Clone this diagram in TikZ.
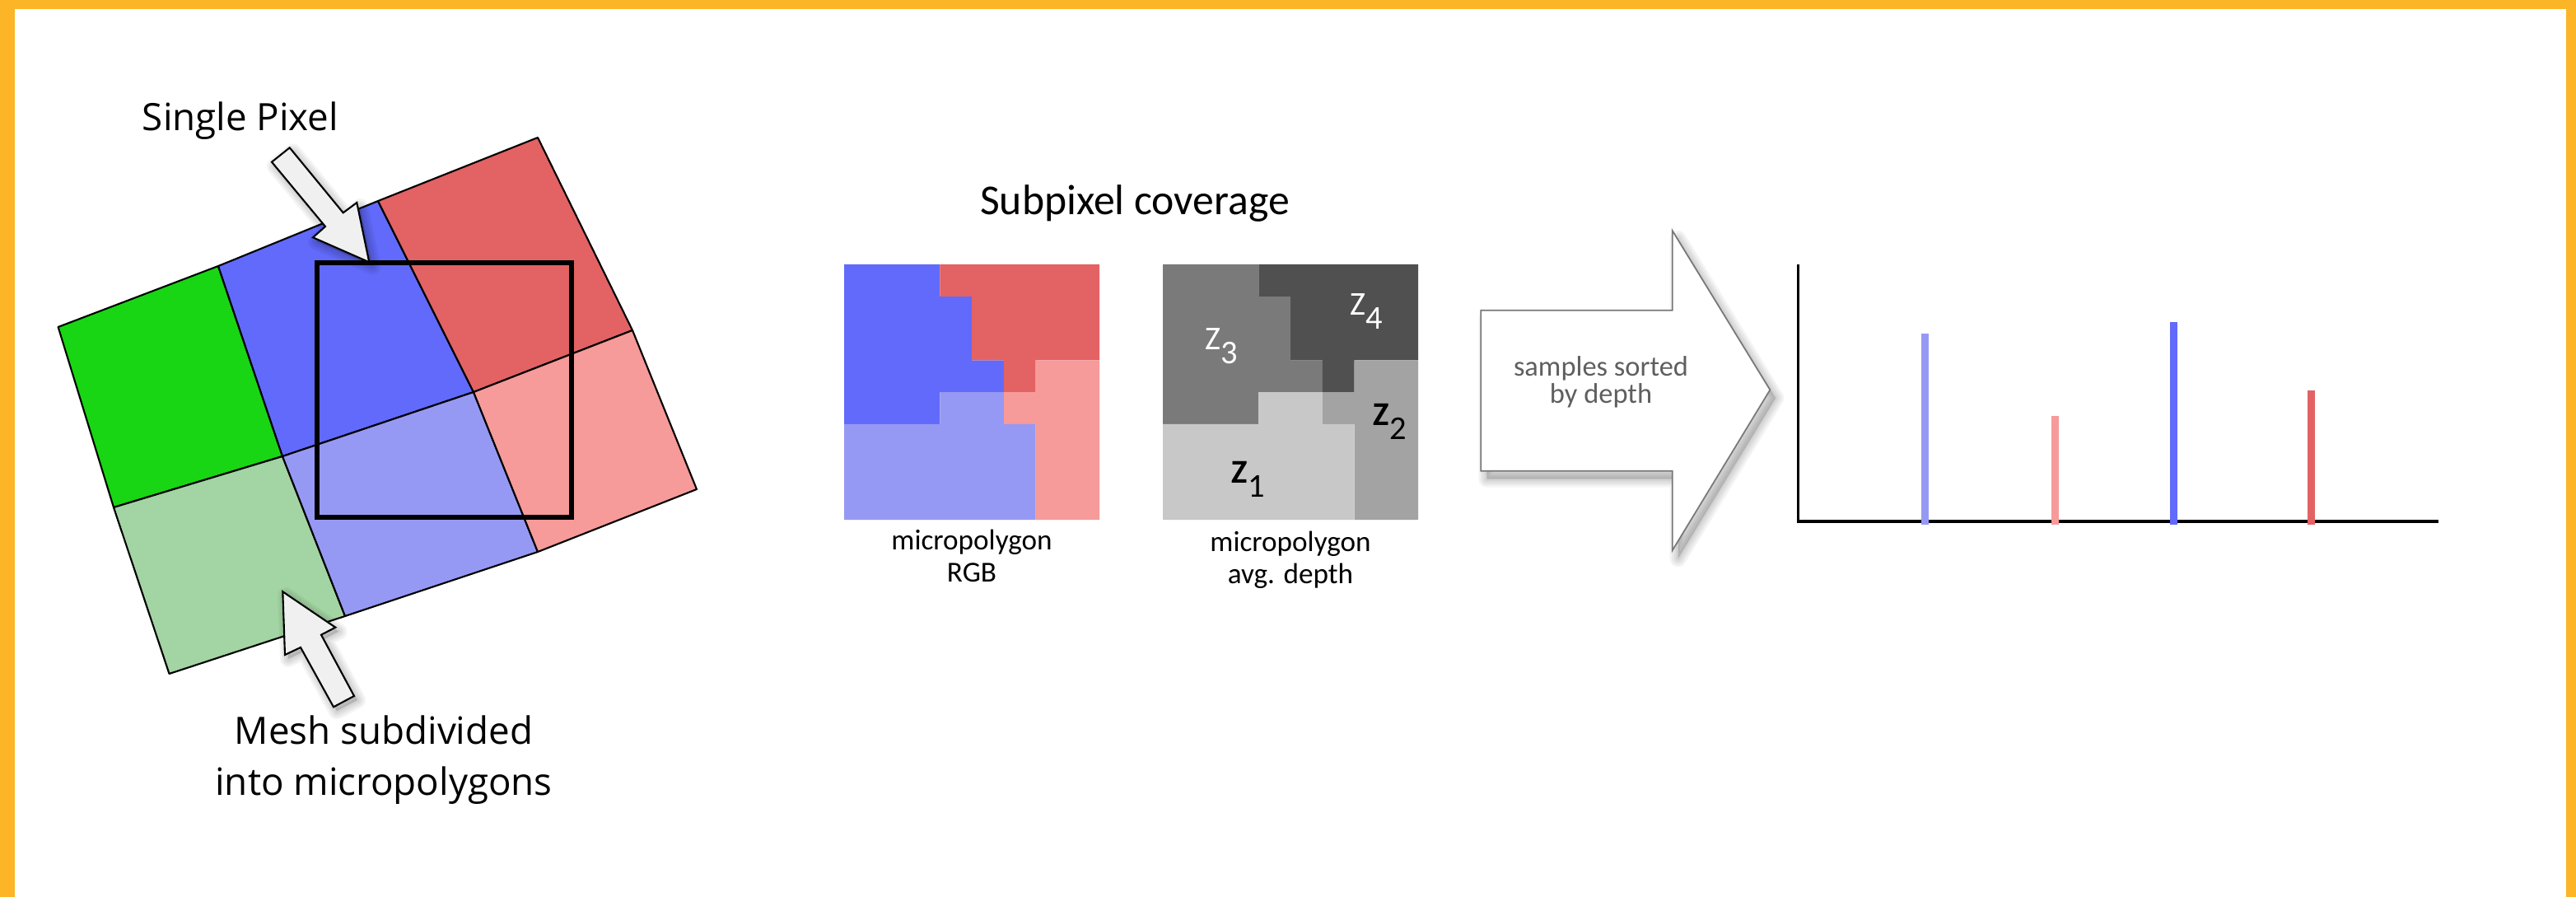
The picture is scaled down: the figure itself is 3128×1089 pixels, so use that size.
\documentclass[tikz,border=0pt]{standalone}
\usepackage{fontspec}
\setmainfont{Carlito}
\newfontfamily\osans{Open Sans}
\definecolor{ygold}{RGB}{251,181,38}
\definecolor{cgreen}{RGB}{24,214,20}
\definecolor{cblue}{RGB}{97,106,250}
\definecolor{cred}{RGB}{227,98,99}
\definecolor{clgreen}{RGB}{163,212,163}
\definecolor{clblue}{RGB}{150,153,244}
\definecolor{cpink}{RGB}{247,154,154}
\definecolor{gzthree}{RGB}{122,122,122}
\definecolor{gzfour}{RGB}{80,80,80}
\definecolor{gztwo}{RGB}{163,163,163}
\definecolor{gzone}{RGB}{200,200,201}
\definecolor{arrowfill}{RGB}{240,240,240}
\definecolor{arrowline}{RGB}{120,120,120}
\definecolor{labgray}{RGB}{95,95,95}
\newcommand\blurshadow[3]{%
  \begin{scope}[shift={(#2,#3)}]
    \foreach \lw in {20,15,10,5}{\draw[black, draw opacity=0.045, line width=\lw*0.2845pt, line join=round] #1;}
    \fill[black, opacity=0.15] #1;
  \end{scope}}
\newcommand\subpixgrid[6]{%
  \begin{scope}[shift={(#1,#2)}, x=0.3875cm, y=-0.3875cm]
    \fill[#3] (0,0) -- (3,0) -- (3,1) -- (4,1) -- (4,3) -- (5,3) -- (5,4) -- (3,4) -- (3,5) -- (0,5) -- cycle;
    \fill[#4] (3,0) -- (8,0) -- (8,3) -- (6,3) -- (6,4) -- (5,4) -- (5,3) -- (4,3) -- (4,1) -- (3,1) -- cycle;
    \fill[#5] (6,3) -- (8,3) -- (8,8) -- (6,8) -- (6,5) -- (5,5) -- (5,4) -- (6,4) -- cycle;
    \fill[#6] (0,5) -- (3,5) -- (3,4) -- (5,4) -- (5,5) -- (6,5) -- (6,8) -- (0,8) -- cycle;
  \end{scope}}
\begin{document}
\begin{tikzpicture}[x=0.01cm, y=-0.01cm,
  meshedge/.style={draw=black, line width=0.6pt, line join=round},
  pixbox/.style={draw=black, line width=1.6pt},
  smallarrow/.style={fill=arrowfill, draw=black, line width=0.6pt, line join=miter},
  bigarrow/.style={fill=white, draw=arrowline, line width=0.5pt, line join=miter},
  samplebar/.style={line width=2.56pt},
  biglabel/.style={font=\osans\fontsize{13}{17.6}\selectfont, inner sep=0pt, align=center},
  smalllabel/.style={font=\fontsize{10}{11.1}\selectfont, inner sep=0pt, align=center},
  zlab/.style={font=\fontsize{11.5}{13}\selectfont, inner sep=0pt, anchor=base west}]
\useasboundingbox (0,0) rectangle (3128,1089);
% frame
\fill[ygold] (0,0) rectangle (3128,1089);
\fill[white] (17.7,10.7) rectangle (3116,1089);

% mesh vertices
\coordinate (A0) at (70.6,397);
\coordinate (A1) at (265,323);
\coordinate (A2) at (459,244);
\coordinate (A3) at (653,167);
\coordinate (B0) at (138,616);
\coordinate (B1) at (343,554);
\coordinate (B2) at (575,476);
\coordinate (B3) at (768,401);
\coordinate (C0) at (205.5,818);
\coordinate (C1) at (419,748);
\coordinate (C2) at (653,670);
\coordinate (C3) at (846,594);

\filldraw[meshedge, fill=cgreen] (A0) -- (A1) -- (B1) -- (B0) -- cycle;
\filldraw[meshedge, fill=cblue] (A1) -- (A2) -- (B2) -- (B1) -- cycle;
\filldraw[meshedge, fill=cred] (A2) -- (A3) -- (B3) -- (B2) -- cycle;
\filldraw[meshedge, fill=clgreen] (B0) -- (B1) -- (C1) -- (C0) -- cycle;
\filldraw[meshedge, fill=clblue] (B1) -- (B2) -- (C2) -- (C1) -- cycle;
\filldraw[meshedge, fill=cpink] (B2) -- (B3) -- (C3) -- (C2) -- cycle;

% single pixel square
\draw[pixbox] (385,319) rectangle (694,628);

% block arrows
\def\pathSP{(351.7,179.3) -- (416.7,258.3) -- (433.3,246) -- (448.3,318.3) -- (380,288.3) -- (395,275) -- (330,196.7) -- cycle}
\def\pathMS{(343.3,718.3) -- (407.3,761.7) -- (390,770.7) -- (430,845) -- (405,858.3) -- (365,786) -- (346,795) -- cycle}
\def\pathBA{(1798.3,376.7) -- (2030.7,376.7) -- (2030.7,280) -- (2149.3,473.3) -- (2030.7,668.3) -- (2030.7,571.7) -- (1798.3,571.7) -- cycle}
\blurshadow{\pathSP}{4}{5}
\filldraw[smallarrow] \pathSP;
\blurshadow{\pathMS}{4}{5}
\filldraw[smallarrow] \pathMS;
\blurshadow{\pathBA}{7}{10}
\filldraw[bigarrow] \pathBA;

% texts left
\node[biglabel, anchor=base] (single) at (292,159) {Single Pixel};
\node[biglabel, anchor=base] (mesh) at (466,965) {Mesh subdivided\\into micropolygons};

% subpixel coverage
\node[font=\fontsize{14.7}{17}\selectfont, inner sep=0pt, anchor=base] (title) at (1378,260.5) {Subpixel coverage};
\subpixgrid{1025}{321}{cblue}{cred}{cpink}{clblue}
\subpixgrid{1412}{321}{gzthree}{gzfour}{gztwo}{gzone}
\node[smalllabel, anchor=base] (rgblab) at (1180,707) {micropolygon\\RGB};
\node[smalllabel, anchor=base] (deplab) at (1567,709) {micropolygon\\avg. depth};
\node[zlab, text=white] (z3) at (1463,425) {Z\raisebox{-4.8pt}{3}};
\node[zlab, text=white] (z4) at (1639,383) {Z\raisebox{-4.8pt}{4}};
\node[zlab, text=black] (z2) at (1667,517) {\textbf{Z}\raisebox{-4.8pt}{2}};
\node[zlab, text=black] (z1) at (1495,587) {\textbf{Z}\raisebox{-4.8pt}{1}};

% arrow label
\node[font=\fontsize{9.8}{9.6}\selectfont, text=labgray, inner sep=0pt, align=center, anchor=base] (sorted) at (1944,490) {samples sorted\\by depth};

% chart
\coordinate (O) at (2183.3,633);
\coordinate (Ytop) at (2183.3,321);
\coordinate (Xend) at (2961,633);
\draw[line width=0.95pt] (Ytop) -- (O);
\draw[line width=1.3pt] ([xshift=-0.5pt]O) -- (Xend);
\draw[samplebar, clblue] (2337,637) -- (2337,405);
\draw[samplebar, cpink] (2495,637) -- (2495,505);
\draw[samplebar, cblue] (2639,637) -- (2639,391);
\draw[samplebar, cred] (2806,637) -- (2806,474.5);
\end{tikzpicture}
\end{document}
